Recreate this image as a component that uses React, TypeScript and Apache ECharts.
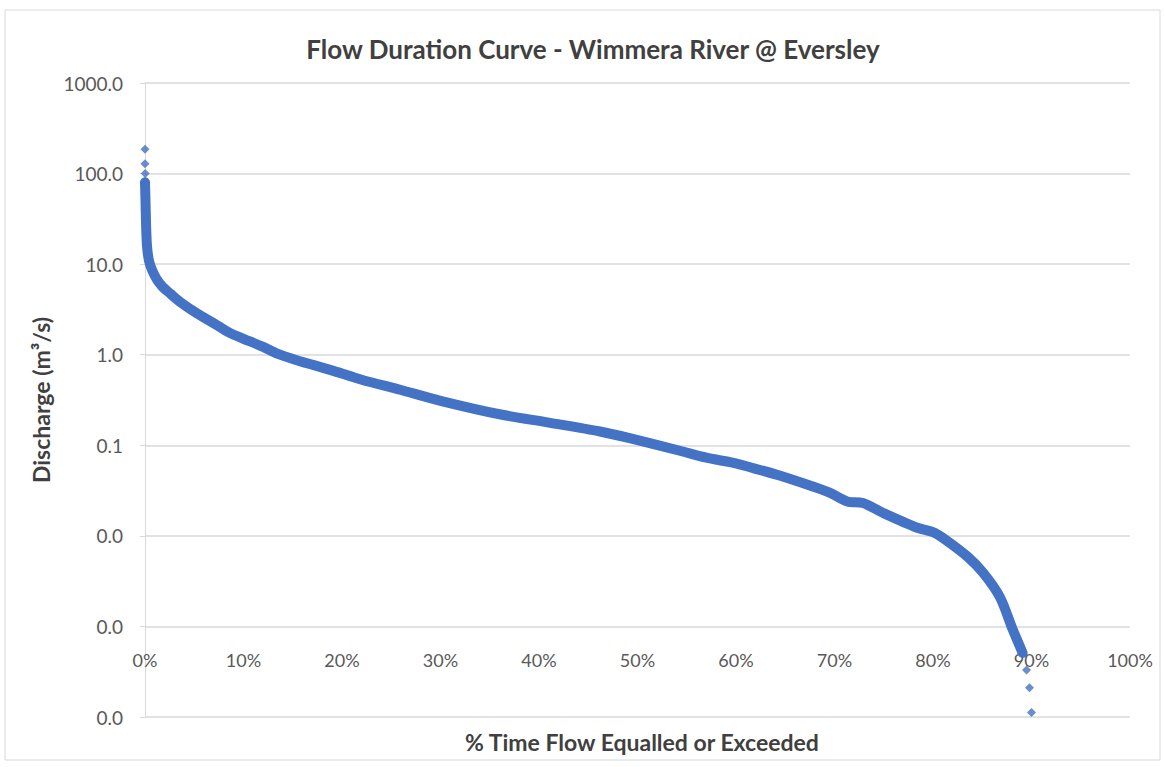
import React, { useEffect, useRef } from "react";
import * as echarts from "echarts";

const titleText = "Flow Duration Curve - Wimmera River @ Eversley";
const xAxisName = "% Time Flow Equalled or Exceeded";
const yAxisName = "Discharge (m³/s)";

// % time equalled or exceeded (continuous part of the curve)
const curvePct = [0, 0.05, 0.1, 0.2, 0.4, 0.7, 1.2, 1.8, 2.6, 3.6, 5.3, 7, 8.6, 10, 12, 13.5, 15.4, 18.8, 22, 25.9, 30, 36, 41, 46.2, 49.2, 54.3, 57, 59.4, 62, 64.5, 67.8, 69.5, 71.3, 72.9, 74.9, 78.4, 80, 81, 83.5, 85.1, 86.8, 88.1, 89.1];
// discharge (m3/s)
const curveQ = [80, 51, 30, 16, 11, 8.7, 6.8, 5.6, 4.7, 3.8, 2.85, 2.22, 1.74, 1.5, 1.22, 1.02, 0.87, 0.68, 0.53, 0.41, 0.31, 0.22, 0.178, 0.142, 0.12, 0.087, 0.073, 0.065, 0.055, 0.046, 0.035, 0.03, 0.024, 0.023, 0.018, 0.0123, 0.011, 0.0095, 0.0059, 0.0039, 0.0021, 0.00092, 0.00051];

// isolated points (peaks and lowest flows)
const dotPct = [0, 0, 0.02, 89.5, 89.8, 90.0];
const dotQ = [185, 128, 100, 0.00033, 0.00021, 0.000112];

const xTicks = { min: 0, max: 100, interval: 10 };
const yRange = { min: 0.0001, max: 1000 };

const FONT = "Lato, 'Open Sans', sans-serif";

export default function App() {
  const ref = useRef<HTMLDivElement>(null);
  useEffect(() => {
    document.body.style.margin = "0";
    const chart = echarts.init(ref.current!, null, { renderer: "svg" });
    const blue = "#4472C4";
    chart.setOption({
      animation: false,
      backgroundColor: "#ffffff",
      textStyle: { fontFamily: FONT },
      title: [
        {
          text: titleText,
          left: 588,
          textAlign: "center",
          top: 31,
          textStyle: { fontFamily: FONT, fontSize: 26, fontWeight: "bold", color: "#404040" },
        },
        {
          text: xAxisName,
          left: 637,
          textAlign: "center",
          top: 725,
          textStyle: { fontFamily: FONT, fontSize: 23, fontWeight: "bold", color: "#404040" },
        },
      ],
      graphic: [
        {
          type: "rect",
          shape: { x: 5, y: 10, width: 1155, height: 750 },
          style: { fill: "none", stroke: "#d9d9d9", lineWidth: 1 },
          silent: true,
        },
      ],
      grid: { left: 145, right: 35, top: 83, bottom: 50 },
      xAxis: {
        type: "value",
        min: xTicks.min,
        max: xTicks.max,
        interval: xTicks.interval,
        offset: -87,
        axisLine: { show: false },
        axisTick: { show: false },
        splitLine: { show: false },
        axisLabel: {
          formatter: "{value}%",
          color: "#595959",
          fontSize: 18,
          fontFamily: FONT,
          margin: 21,
        },
      },
      yAxis: {
        type: "log",
        logBase: 10,
        min: yRange.min,
        max: yRange.max,
        interval: 1,
        name: yAxisName,
        nameLocation: "middle",
        nameGap: 88,
        nameTextStyle: { fontFamily: FONT, fontSize: 23, fontWeight: "bold", color: "#404040" },
        axisLine: { show: true, lineStyle: { color: "#d9d9d9" } },
        axisTick: { show: true, length: 5, lineStyle: { color: "#d9d9d9" } },
        splitLine: { show: true, lineStyle: { color: "#d9d9d9", width: 1.5 } },
        axisLabel: {
          formatter: (v: number) => v.toFixed(1),
          color: "#595959",
          fontSize: 19,
          fontFamily: FONT,
          margin: 22,
        },
      },
      series: [
        {
          type: "line",
          data: curvePct.map((p, i) => [p, curveQ[i]]),
          smooth: 0.3,
          showSymbol: false,
          lineStyle: { color: blue, width: 10, cap: "round", join: "round" },
          z: 3,
        },
        {
          type: "scatter",
          data: dotPct.map((p, i) => [p, dotQ[i]]),
          symbol: "diamond",
          symbolSize: 9,
          itemStyle: { color: blue },
          z: 4,
        },
      ],
    });
    return () => chart.dispose();
  }, []);
  return <div ref={ref} style={{ position: "absolute", left: 0, top: 0, width: 1165, height: 767 }} />;
}
